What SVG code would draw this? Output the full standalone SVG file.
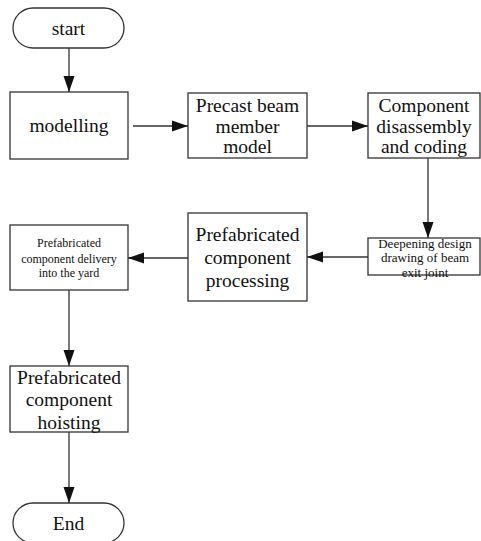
<svg xmlns="http://www.w3.org/2000/svg" width="481" height="541" viewBox="0 0 481 541">
<defs>
<style>
.box{fill:#fff;stroke:#333;stroke-width:1.3}
.ln{fill:none;stroke:#333;stroke-width:1.3}
text{font-family:"Liberation Serif","Times New Roman",serif;fill:#111;text-anchor:middle}
.t20{font-size:19.5px}
.t13{font-size:13px}
.t12{font-size:12px}
</style>
<marker id="ah" markerUnits="userSpaceOnUse" markerWidth="16" markerHeight="12" refX="16" refY="6" orient="auto">
<path d="M0,0.5 L16,6 L0,11.5 Z" fill="#111"/>
</marker>
</defs>
<rect width="481" height="541" fill="#fff"/>
<g id="start"><rect class="box" x="13" y="8" width="111" height="40" rx="20" ry="20"/><text class="t20" x="68.5" y="35">start</text></g>
<g id="modelling"><rect class="box" x="10" y="92" width="118" height="67"/><text class="t20" x="69" y="132">modelling</text></g>
<g id="precast"><rect class="box" x="188" y="93" width="119" height="65"/><text class="t20" x="247.5" y="112">Precast beam</text><text class="t20" x="247.5" y="132.5">member</text><text class="t20" x="247.5" y="153">model</text></g>
<g id="component"><rect class="box" x="368" y="93" width="112" height="65"/><text class="t20" x="424" y="112">Component</text><text class="t20" x="424" y="132.5">disassembly</text><text class="t20" x="424" y="153">and coding</text></g>
<g id="deepening"><rect class="box" x="368" y="238" width="112" height="37"/><text class="t13" x="425" y="247.5">Deepening design</text><text class="t13" x="425" y="262">drawing of beam</text><text class="t13" x="425" y="276.5">exit joint</text></g>
<g id="processing"><rect class="box" x="188" y="213" width="119" height="88"/><text class="t20" x="247.5" y="240.5">Prefabricated</text><text class="t20" x="247.5" y="263.5">component</text><text class="t20" x="247.5" y="286.5">processing</text></g>
<g id="delivery"><rect class="box" x="10" y="225" width="118" height="65"/><text class="t12" x="69" y="247">Prefabricated</text><text class="t12" x="69" y="262.5">component delivery</text><text class="t12" x="69" y="277">into the yard</text></g>
<g id="hoisting"><rect class="box" x="10" y="366" width="118" height="66"/><text class="t20" x="69" y="383.5">Prefabricated</text><text class="t20" x="69" y="406">component</text><text class="t20" x="69" y="428.5">hoisting</text></g>
<g id="end"><rect class="box" x="13" y="503" width="111" height="40" rx="20" ry="20"/><text class="t20" x="68.5" y="530">End</text></g>
<g id="connectors">
<line class="ln" x1="69" y1="48" x2="69" y2="92" marker-end="url(#ah)"/>
<line class="ln" x1="133" y1="126" x2="188" y2="126" marker-end="url(#ah)"/>
<line class="ln" x1="307" y1="126" x2="368" y2="126" marker-end="url(#ah)"/>
<line class="ln" x1="428" y1="158" x2="428" y2="238" marker-end="url(#ah)"/>
<line class="ln" x1="368" y1="257" x2="307" y2="257" marker-end="url(#ah)"/>
<line class="ln" x1="188" y1="258" x2="128" y2="258" marker-end="url(#ah)"/>
<line class="ln" x1="69" y1="290" x2="69" y2="366" marker-end="url(#ah)"/>
<line class="ln" x1="69" y1="432" x2="69" y2="503" marker-end="url(#ah)"/>
</g>
</svg>
